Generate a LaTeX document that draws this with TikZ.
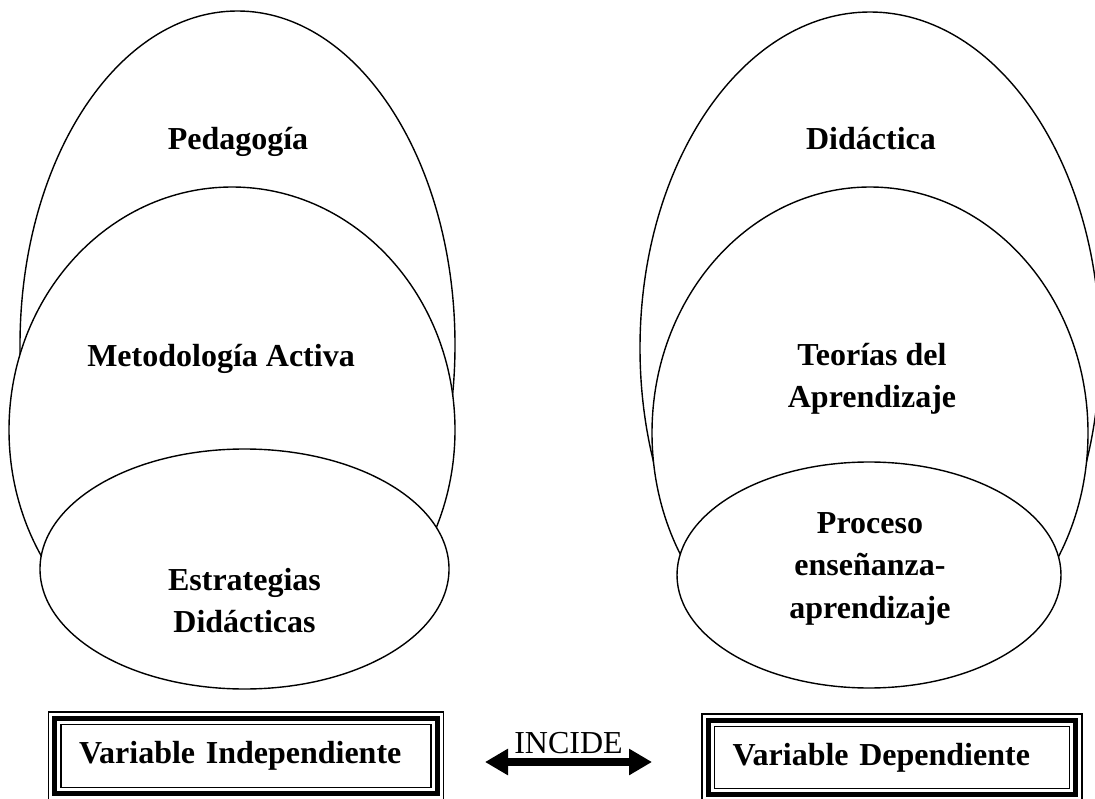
\documentclass[tikz,border=0pt]{standalone}
\usepackage{fontspec}
\setmainfont{Liberation Serif}
\usetikzlibrary{shapes.geometric,arrows.meta}
\tikzset{
  ell/.style={ellipse, draw, fill=white, line width=1.4pt, inner sep=0pt, outer sep=0pt},
  lbl/.style={font=\fontsize{32}{38}\selectfont\bfseries, anchor=base, inner sep=0pt},
  varbox/.style={rectangle, draw, line width=1.6pt, inner sep=0pt, outer sep=0pt, inner xsep=18pt,
    align=left, font=\fontsize{32}{38}\selectfont\bfseries},
  midframe/.style={line width=5pt},
  outframe/.style={line width=1.6pt},
  bigarrow/.style={line width=8pt, {Triangle[length=23pt,width=25pt]}-{Triangle[length=23pt,width=25pt]}}
}
\begin{document}
\begin{tikzpicture}[x=1pt,y=-1pt]
\useasboundingbox (0,0) rectangle (1095,799);
\clip (0,0) rectangle (1095,799);
% left group
\node[ell, minimum width=435pt, minimum height=668pt] (ped) at (237.5,345) {};
\node[ell, minimum width=446pt, minimum height=486pt] (met) at (232,430) {};
\node[ell, minimum width=409pt, minimum height=240pt] (est) at (244.5,569) {};
\node[lbl] (tped) at (238,150) {Pedagogía};
\node[lbl] (tmet) at (221,367) {Metodología Activa};
\node[lbl] (test1) at (244.5,590) {Estrategias};
\node[lbl] (test2) at (244.5,632) {Didácticas};
% right group
\node[ell, minimum width=460pt, minimum height=672pt] (did) at (870,348) {};
\node[ell, minimum width=436pt, minimum height=492pt] (teo) at (870,433) {};
\node[ell, minimum width=384pt, minimum height=226pt] (pro) at (869,575) {};
\node[lbl] (tdid) at (871,150) {Didáctica};
\node[lbl] (tteo1) at (872,366) {Teorías del};
\node[lbl] (tteo2) at (872,408) {Aprendizaje};
\node[lbl] (tpro1) at (870,533) {Proceso};
\node[lbl] (tpro2) at (870,575.5) {enseñanza-};
\node[lbl] (tpro3) at (870,618) {aprendizaje};
% boxes
\node[varbox, text width=334pt, minimum height=63pt] (vi) at (246,756) {Variable Independiente};
\draw[midframe] ([shift={(-6.2pt,6.2pt)}]vi.north west) rectangle ([shift={(6.2pt,-6.2pt)}]vi.south east);
\draw[outframe] ([shift={(-12.5pt,12.5pt)}]vi.north west) rectangle ([shift={(12.5pt,-12.5pt)}]vi.south east);
\node[varbox, text width=319pt, minimum height=62pt] (vd) at (892,757.5) {Variable Dependiente};
\draw[midframe] ([shift={(-6.2pt,6.2pt)}]vd.north west) rectangle ([shift={(6.2pt,-6.2pt)}]vd.south east);
\draw[outframe] ([shift={(-12.5pt,12.5pt)}]vd.north west) rectangle ([shift={(12.5pt,-12.5pt)}]vd.south east);
% arrow
\coordinate (aL) at (485,762);
\coordinate (aR) at (652,762);
\draw[bigarrow] (aL) -- (aR);
\node[font=\fontsize{32}{38}\selectfont, anchor=base, inner sep=0pt] (inc) at (568.5,753) {INCIDE};
\end{tikzpicture}
\end{document}
